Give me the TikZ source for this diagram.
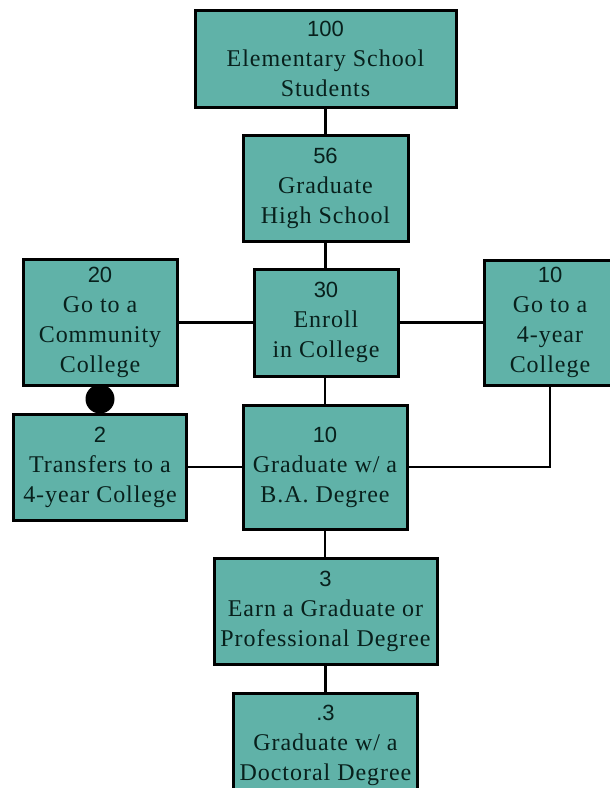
\documentclass[tikz,border=0pt]{standalone}
\usepackage{fontspec}
\setmainfont[LetterSpace=4]{Liberation Serif}
\newfontfamily\numfont{Liberation Sans}
\definecolor{boxfill}{RGB}{96,178,168}
\definecolor{boxtext}{RGB}{8,32,28}
\newcommand\nm[1]{{\numfont\fontsize{22}{30}\selectfont #1}}
\tikzset{
  box/.style={draw=black, line width=3pt, fill=boxfill, text=boxtext,
    align=center, inner sep=0pt, font=\fontsize{24}{30}\selectfont},
  conn/.style={draw=black, line width=2.6pt},
}
\begin{document}
\begin{tikzpicture}[x=1pt,y=-1pt]
\clip (0,0) rectangle (610,788);
\fill[white] (0,0) rectangle (610,788);
\node[box, minimum width=261pt, minimum height=97pt] (top) at (325.5,58.5) {\nm{100}\\Elementary School\\Students};
\node[box, minimum width=165pt, minimum height=106pt] (hs) at (325.5,188) {\nm{56}\\Graduate\\High School};
\node[box, minimum width=144pt, minimum height=107pt] (enroll) at (326,322.5) {\nm{30}\\Enroll\\in College};
\node[box, minimum width=154pt, minimum height=126pt] (cc) at (100,322.5) {\nm{20}\\Go to a\\Community\\College};
\node[box, minimum width=132pt, minimum height=125pt] (four) at (550,322.5) {\nm{10}\\Go to a\\4-year\\College};
\node[box, minimum width=173pt, minimum height=106pt] (transfer) at (100,467) {\nm{2}\\Transfers to a\\4-year College};
\node[box, minimum width=164pt, minimum height=124pt] (ba) at (325,467) {\nm{10}\\Graduate w/ a\\B.A. Degree};
\node[box, minimum width=223pt, minimum height=106pt] (earn) at (325.5,611) {\nm{3}\\Earn a Graduate or\\Professional Degree};
\node[box, minimum width=184pt, minimum height=104pt] (doc) at (325.5,745) {\nm{.3}\\Graduate w/ a\\Doctoral Degree};
\path[conn] (top.south) -- (hs.north);
\path[conn] (hs.south) -- (hs.south |- enroll.north);
\path[conn] (enroll.west) -- (cc.east);
\path[conn] (enroll.east) -- (four.west);
\path[conn] (ba.north) -- (ba.north |- enroll.south);
\path[conn] (transfer.east) -- (ba.west);
\path[conn] (four.south) |- (ba.east);
\path[conn] (ba.south) -- (ba.south |- earn.north);
\path[conn] (earn.south) -- (doc.north);
\path[conn] (cc.south) -- (transfer.north);
\coordinate (dot) at (100,399);
\fill[black] (dot) circle (14.5pt);
\end{tikzpicture}
\end{document}
